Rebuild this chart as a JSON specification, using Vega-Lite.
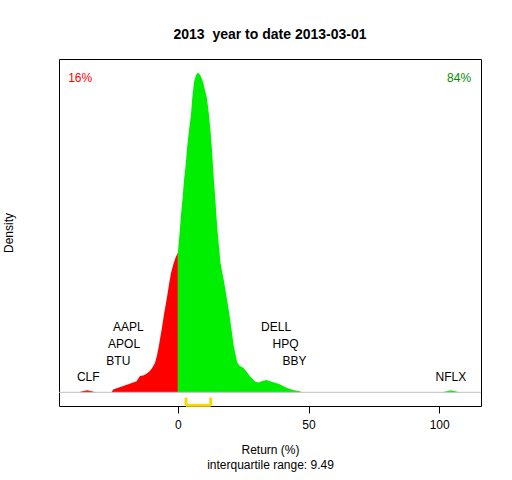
{
  "$schema": "https://vega.github.io/schema/vega-lite/v6.json",
  "width": 422,
  "height": 347,
  "autosize": "none",
  "padding": {"left": 59, "top": 59, "right": 31, "bottom": 74},
  "background": "white",
  "config": {
    "font": "Liberation Sans",
    "view": {"stroke": "black", "strokeWidth": 1}
  },
  "title": {
    "text": "2013\u00a0 year to date 2013-03-01",
    "font": "Liberation Sans",
    "fontSize": 14,
    "fontWeight": "bold",
    "color": "black",
    "anchor": "middle",
    "offset": 17
  },
  "datasets": {
    "curve": [
      {"x": -38, "d": 0, "side": "neg"},
      {"x": -36.5, "d": 0.0002, "side": "neg"},
      {"x": -34.7, "d": 0.00035, "side": "neg"},
      {"x": -33, "d": 0.0002, "side": "neg"},
      {"x": -31.5, "d": 0, "side": "neg"},
      {"x": -25.4, "d": 0, "side": "neg"},
      {"x": -24.8, "d": 0.0005, "side": "neg"},
      {"x": -22.9, "d": 0.0008, "side": "neg"},
      {"x": -20.9, "d": 0.0011, "side": "neg"},
      {"x": -19, "d": 0.0014, "side": "neg"},
      {"x": -17.1, "d": 0.0017, "side": "neg"},
      {"x": -15.8, "d": 0.0019, "side": "neg"},
      {"x": -14.5, "d": 0.0028, "side": "neg"},
      {"x": -13.3, "d": 0.0029, "side": "neg"},
      {"x": -12, "d": 0.0032, "side": "neg"},
      {"x": -10.8, "d": 0.0036, "side": "neg"},
      {"x": -9.8, "d": 0.0042, "side": "neg"},
      {"x": -8.8, "d": 0.005, "side": "neg"},
      {"x": -8, "d": 0.0063, "side": "neg"},
      {"x": -7.3, "d": 0.0079, "side": "neg"},
      {"x": -6.2, "d": 0.0108, "side": "neg"},
      {"x": -5.2, "d": 0.0137, "side": "neg"},
      {"x": -4.1, "d": 0.0165, "side": "neg"},
      {"x": -3.3, "d": 0.0188, "side": "neg"},
      {"x": -2.6, "d": 0.0205, "side": "neg"},
      {"x": -1.6, "d": 0.0222, "side": "neg"},
      {"x": -0.8, "d": 0.0232, "side": "neg"},
      {"x": 0, "d": 0.024, "side": "neg"},
      {"x": 0, "d": 0.024, "side": "pos"},
      {"x": 0.7, "d": 0.0276, "side": "pos"},
      {"x": 1.2, "d": 0.0305, "side": "pos"},
      {"x": 1.8, "d": 0.0334, "side": "pos"},
      {"x": 2.3, "d": 0.0362, "side": "pos"},
      {"x": 3.0, "d": 0.0391, "side": "pos"},
      {"x": 3.5, "d": 0.0419, "side": "pos"},
      {"x": 4.2, "d": 0.0448, "side": "pos"},
      {"x": 5.0, "d": 0.0476, "side": "pos"},
      {"x": 5.5, "d": 0.0505, "side": "pos"},
      {"x": 6.2, "d": 0.0533, "side": "pos"},
      {"x": 6.9, "d": 0.0544, "side": "pos"},
      {"x": 7.7, "d": 0.0549, "side": "pos"},
      {"x": 8.6, "d": 0.0544, "side": "pos"},
      {"x": 9.6, "d": 0.0533, "side": "pos"},
      {"x": 11.1, "d": 0.0505, "side": "pos"},
      {"x": 11.9, "d": 0.0476, "side": "pos"},
      {"x": 12.5, "d": 0.0448, "side": "pos"},
      {"x": 13.0, "d": 0.0419, "side": "pos"},
      {"x": 13.4, "d": 0.0391, "side": "pos"},
      {"x": 13.8, "d": 0.0362, "side": "pos"},
      {"x": 14.3, "d": 0.0334, "side": "pos"},
      {"x": 14.7, "d": 0.0305, "side": "pos"},
      {"x": 15.2, "d": 0.0276, "side": "pos"},
      {"x": 15.7, "d": 0.0251, "side": "pos"},
      {"x": 16.3, "d": 0.0222, "side": "pos"},
      {"x": 17.5, "d": 0.0194, "side": "pos"},
      {"x": 18.6, "d": 0.0165, "side": "pos"},
      {"x": 19.6, "d": 0.0137, "side": "pos"},
      {"x": 20.5, "d": 0.0108, "side": "pos"},
      {"x": 21.4, "d": 0.0079, "side": "pos"},
      {"x": 22.7, "d": 0.0051, "side": "pos"},
      {"x": 23.7, "d": 0.0045, "side": "pos"},
      {"x": 25.0, "d": 0.0042, "side": "pos"},
      {"x": 26.2, "d": 0.0036, "side": "pos"},
      {"x": 27.5, "d": 0.0028, "side": "pos"},
      {"x": 29.4, "d": 0.0019, "side": "pos"},
      {"x": 30.7, "d": 0.0017, "side": "pos"},
      {"x": 32.1, "d": 0.0019, "side": "pos"},
      {"x": 33.9, "d": 0.0021, "side": "pos"},
      {"x": 35.9, "d": 0.0018, "side": "pos"},
      {"x": 39.0, "d": 0.0014, "side": "pos"},
      {"x": 41.6, "d": 0.0008, "side": "pos"},
      {"x": 44.0, "d": 0.0004, "side": "pos"},
      {"x": 46.7, "d": 0.0002, "side": "pos"},
      {"x": 47.4, "d": 0, "side": "pos"},
      {"x": 101.3, "d": 0, "side": "pos"},
      {"x": 102.8, "d": 0.0002, "side": "pos"},
      {"x": 104.5, "d": 0.00034, "side": "pos"},
      {"x": 106.1, "d": 0.0002, "side": "pos"},
      {"x": 107.6, "d": 0, "side": "pos"}
    ],
    "stocks": [
      {"name": "CLF", "x": -34.3, "y": 0.00257},
      {"name": "BTU", "x": -22.8, "y": 0.00536},
      {"name": "APOL", "x": -20.6, "y": 0.00834},
      {"name": "AAPL", "x": -19.0, "y": 0.01125},
      {"name": "DELL", "x": 37.6, "y": 0.01125},
      {"name": "HPQ", "x": 41.2, "y": 0.00834},
      {"name": "BBY", "x": 44.6, "y": 0.00536},
      {"name": "NFLX", "x": 104.5, "y": 0.00257}
    ],
    "bracket": [
      {"x": 3.1, "x2": 12.6, "y": -0.00223, "y2": -0.00223},
      {"x": 3.1, "x2": 3.1, "y": -0.00223, "y2": -0.0009},
      {"x": 12.6, "x2": 12.6, "y": -0.00223, "y2": -0.0009}
    ],
    "share": [
      {"label": "16%", "x": -42.0, "y": 0.054},
      {"label": "84%", "x": 112.2, "y": 0.054}
    ],
    "baseline": [
      {"y": 0}
    ]
  },
  "layer": [
    {
      "data": {"name": "curve"},
      "mark": {"type": "area", "interpolate": "linear"},
      "encoding": {
        "x": {
          "field": "x",
          "type": "quantitative",
          "scale": {"domain": [-45.5, 116], "nice": false, "zero": false},
          "axis": {
            "values": [0, 50, 100],
            "domain": false,
            "grid": false,
            "tickColor": "black",
            "tickSize": 7,
            "labelFontSize": 12,
            "labelColor": "black",
            "labelPadding": 6,
            "title": ["Return (%)", "interquartile range: 9.49"],
            "titleFontSize": 12,
            "titleFontWeight": "normal",
            "titleColor": "black",
            "titleLineHeight": 15,
            "titlePadding": 14
          }
        },
        "y": {
          "field": "d",
          "type": "quantitative",
          "stack": null,
          "scale": {"domain": [-0.00235, 0.0572], "nice": false, "zero": false},
          "axis": {
            "labels": false,
            "ticks": false,
            "domain": false,
            "grid": false,
            "title": "Density",
            "titleFontSize": 12,
            "titleFontWeight": "normal",
            "titleColor": "black",
            "titlePadding": 44
          }
        },
        "color": {
          "field": "side",
          "type": "nominal",
          "scale": {"domain": ["neg", "pos"], "range": ["#FF0000", "#00EE00"]},
          "legend": null
        }
      }
    },
    {
      "data": {"name": "baseline"},
      "mark": {"type": "rule", "color": "#BEBEBE", "strokeWidth": 1},
      "encoding": {"y": {"field": "y", "type": "quantitative"}}
    },
    {
      "data": {"name": "bracket"},
      "mark": {"type": "rule", "color": "#FFD700", "strokeWidth": 3},
      "encoding": {
        "x": {"field": "x", "type": "quantitative"},
        "x2": {"field": "x2"},
        "y": {"field": "y", "type": "quantitative"},
        "y2": {"field": "y2"}
      }
    },
    {
      "data": {"name": "stocks"},
      "mark": {"type": "text", "fontSize": 12, "color": "black", "align": "center", "baseline": "middle"},
      "encoding": {
        "x": {"field": "x", "type": "quantitative"},
        "y": {"field": "y", "type": "quantitative"},
        "text": {"field": "name"}
      }
    },
    {
      "data": {"name": "share"},
      "transform": [{"filter": "datum.label == '16%'"}],
      "mark": {"type": "text", "fontSize": 12, "color": "#FF0000", "align": "left", "baseline": "middle"},
      "encoding": {
        "x": {"field": "x", "type": "quantitative"},
        "y": {"field": "y", "type": "quantitative"},
        "text": {"field": "label"}
      }
    },
    {
      "data": {"name": "share"},
      "transform": [{"filter": "datum.label == '84%'"}],
      "mark": {"type": "text", "fontSize": 12, "color": "#008B00", "align": "right", "baseline": "middle"},
      "encoding": {
        "x": {"field": "x", "type": "quantitative"},
        "y": {"field": "y", "type": "quantitative"},
        "text": {"field": "label"}
      }
    }
  ]
}
